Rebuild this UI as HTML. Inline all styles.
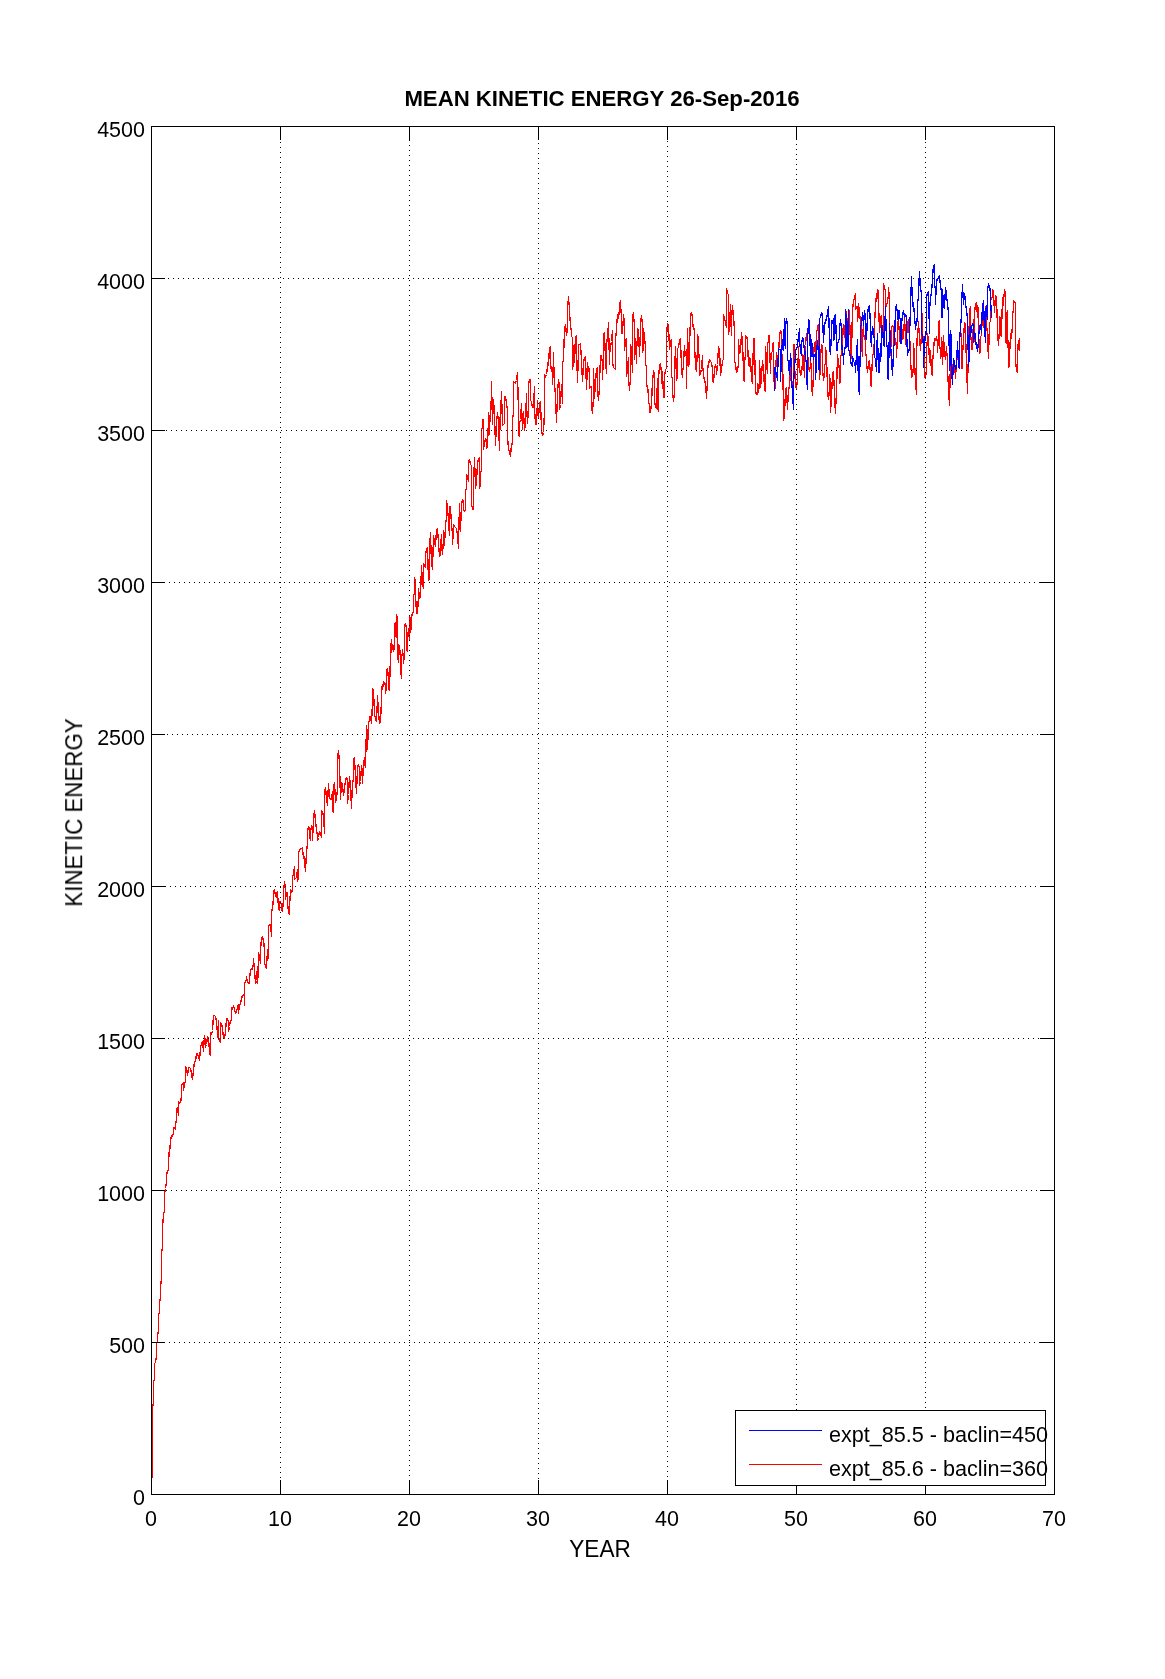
<!DOCTYPE html><html><head><meta charset="utf-8"><title>MEAN KINETIC ENERGY</title><style>html,body{margin:0;padding:0;background:#fff;}body{width:1165px;height:1679px;overflow:hidden;}svg{display:block;}text{font-family:"Liberation Sans",Arial,Helvetica,sans-serif;fill:#000;}</style></head><body><svg width="1165" height="1679" viewBox="0 0 1165 1679"><rect x="0" y="0" width="1165" height="1679" fill="#fff"/><path d="M151.5 1481.5 L152.5 1470.5 L152.5 1440.5 L152.5 1416.5 L152.5 1404.5 L153.5 1405.5 L153.5 1380.5 L154.5 1380.5 L154.5 1370.5 L154.5 1363.5 L155.5 1362.5 L156.5 1356.5 L156.5 1351.5 L156.5 1343.5 L157.5 1342.5 L157.5 1336.5 L158.5 1330.5 L158.5 1319.5 L158.5 1314.5 L159.5 1312.5 L159.5 1305.5 L159.5 1303.5 L160.5 1297.5 L160.5 1288.5 L160.5 1287.5 L161.5 1277.5 L161.5 1265.5 L161.5 1249.5 L162.5 1250.5 L162.5 1233.5 L162.5 1219.5 L163.5 1222.5 L163.5 1212.5 L164.5 1212.5 L164.5 1200.5 L164.5 1193.5 L165.5 1188.5 L166.5 1182.5 L166.5 1175.5 L167.5 1170.5 L168.5 1170.5 L168.5 1164.5 L169.5 1145.5 L170.5 1148.5 L170.5 1141.5 L171.5 1135.5 L172.5 1136.5 L173.5 1133.5 L173.5 1127.5 L174.5 1127.5 L175.5 1129.5 L175.5 1121.5 L176.5 1122.5 L176.5 1108.5 L177.5 1112.5 L177.5 1107.5 L178.5 1110.5 L178.5 1115.5 L178.5 1101.5 L179.5 1103.5 L180.5 1101.5 L180.5 1098.5 L181.5 1100.5 L181.5 1085.5 L182.5 1083.5 L182.5 1083.5 L183.5 1082.5 L183.5 1090.5 L184.5 1084.5 L185.5 1081.5 L185.5 1066.5 L186.5 1068.5 L187.5 1075.5 L188.5 1067.5 L188.5 1067.5 L189.5 1067.5 L190.5 1068.5 L191.5 1073.5 L192.5 1079.5 L193.5 1070.5 L193.5 1070.5 L194.5 1061.5 L195.5 1061.5 L196.5 1053.5 L197.5 1053.5 L198.5 1056.5 L199.5 1060.5 L200.5 1047.5 L201.5 1043.5 L202.5 1041.5 L203.5 1051.5 L203.5 1050.5 L204.5 1035.5 L205.5 1042.5 L205.5 1047.5 L206.5 1044.5 L207.5 1036.5 L208.5 1037.5 L209.5 1052.5 L210.5 1055.5 L210.5 1032.5 L211.5 1034.5 L212.5 1030.5 L213.5 1015.5 L214.5 1015.5 L215.5 1016.5 L216.5 1021.5 L217.5 1034.5 L217.5 1037.5 L218.5 1020.5 L218.5 1036.5 L219.5 1041.5 L220.5 1042.5 L220.5 1022.5 L221.5 1024.5 L222.5 1027.5 L223.5 1038.5 L224.5 1038.5 L225.5 1032.5 L226.5 1018.5 L227.5 1018.5 L228.5 1022.5 L228.5 1031.5 L229.5 1026.5 L230.5 1020.5 L231.5 1020.5 L231.5 1007.5 L232.5 1009.5 L233.5 1005.5 L234.5 1009.5 L235.5 1013.5 L236.5 1011.5 L237.5 1007.5 L238.5 1004.5 L238.5 1013.5 L239.5 1004.5 L240.5 1003.5 L240.5 1004.5 L241.5 998.5 L242.5 995.5 L244.5 994.5 L244.5 1005.5 L244.5 983.5 L245.5 981.5 L246.5 979.5 L246.5 976.5 L247.5 982.5 L249.5 983.5 L249.5 979.5 L250.5 970.5 L251.5 968.5 L252.5 969.5 L253.5 962.5 L253.5 958.5 L254.5 970.5 L255.5 983.5 L256.5 980.5 L257.5 966.5 L257.5 983.5 L258.5 968.5 L258.5 952.5 L259.5 956.5 L260.5 963.5 L260.5 950.5 L261.5 938.5 L262.5 936.5 L263.5 941.5 L263.5 938.5 L264.5 951.5 L264.5 962.5 L265.5 966.5 L266.5 968.5 L267.5 949.5 L267.5 955.5 L268.5 958.5 L268.5 926.5 L269.5 924.5 L270.5 924.5 L270.5 924.5 L271.5 936.5 L271.5 912.5 L272.5 907.5 L272.5 901.5 L273.5 904.5 L273.5 892.5 L274.5 889.5 L275.5 896.5 L276.5 897.5 L276.5 894.5 L277.5 891.5 L278.5 909.5 L279.5 910.5 L279.5 901.5 L280.5 901.5 L281.5 905.5 L281.5 909.5 L282.5 911.5 L283.5 898.5 L283.5 891.5 L284.5 881.5 L285.5 889.5 L285.5 899.5 L286.5 892.5 L287.5 892.5 L287.5 903.5 L288.5 911.5 L289.5 914.5 L289.5 908.5 L290.5 889.5 L291.5 892.5 L292.5 890.5 L292.5 875.5 L293.5 875.5 L294.5 866.5 L294.5 879.5 L295.5 878.5 L296.5 877.5 L297.5 869.5 L297.5 881.5 L298.5 878.5 L298.5 852.5 L299.5 850.5 L300.5 848.5 L301.5 848.5 L302.5 847.5 L302.5 849.5 L302.5 854.5 L303.5 852.5 L305.5 871.5 L305.5 870.5 L306.5 852.5 L307.5 843.5 L307.5 831.5 L308.5 826.5 L309.5 828.5 L309.5 834.5 L310.5 840.5 L310.5 832.5 L311.5 825.5 L312.5 829.5 L312.5 840.5 L313.5 819.5 L314.5 810.5 L315.5 821.5 L316.5 829.5 L317.5 836.5 L317.5 840.5 L318.5 837.5 L319.5 831.5 L320.5 833.5 L321.5 837.5 L321.5 810.5 L322.5 812.5 L323.5 815.5 L324.5 833.5 L324.5 793.5 L325.5 787.5 L326.5 798.5 L327.5 805.5 L327.5 804.5 L328.5 783.5 L329.5 797.5 L330.5 799.5 L331.5 799.5 L332.5 791.5 L332.5 810.5 L333.5 812.5 L333.5 788.5 L334.5 782.5 L335.5 801.5 L335.5 802.5 L336.5 798.5 L337.5 788.5 L337.5 753.5 L338.5 753.5 L338.5 750.5 L339.5 763.5 L340.5 799.5 L341.5 782.5 L342.5 785.5 L343.5 794.5 L343.5 795.5 L345.5 780.5 L346.5 777.5 L347.5 778.5 L347.5 803.5 L348.5 794.5 L349.5 776.5 L350.5 786.5 L351.5 808.5 L352.5 780.5 L353.5 781.5 L353.5 759.5 L354.5 757.5 L355.5 776.5 L356.5 793.5 L357.5 767.5 L358.5 764.5 L359.5 768.5 L359.5 785.5 L360.5 781.5 L361.5 765.5 L362.5 773.5 L362.5 783.5 L363.5 764.5 L364.5 757.5 L364.5 762.5 L365.5 767.5 L366.5 725.5 L366.5 726.5 L367.5 734.5 L367.5 749.5 L368.5 723.5 L369.5 719.5 L369.5 716.5 L370.5 716.5 L371.5 723.5 L372.5 702.5 L372.5 688.5 L373.5 689.5 L374.5 714.5 L374.5 714.5 L375.5 718.5 L376.5 721.5 L377.5 698.5 L377.5 695.5 L378.5 712.5 L379.5 723.5 L380.5 721.5 L381.5 700.5 L381.5 686.5 L382.5 689.5 L383.5 681.5 L384.5 684.5 L385.5 683.5 L385.5 693.5 L386.5 687.5 L386.5 669.5 L387.5 668.5 L388.5 679.5 L388.5 688.5 L389.5 690.5 L390.5 653.5 L390.5 649.5 L391.5 639.5 L391.5 652.5 L392.5 644.5 L393.5 648.5 L393.5 651.5 L394.5 642.5 L394.5 649.5 L394.5 625.5 L395.5 622.5 L395.5 624.5 L395.5 635.5 L396.5 637.5 L396.5 614.5 L397.5 618.5 L397.5 616.5 L397.5 643.5 L397.5 653.5 L398.5 662.5 L398.5 644.5 L399.5 645.5 L399.5 654.5 L400.5 650.5 L400.5 668.5 L401.5 677.5 L401.5 678.5 L401.5 658.5 L402.5 652.5 L402.5 649.5 L403.5 658.5 L403.5 663.5 L404.5 653.5 L404.5 632.5 L404.5 624.5 L405.5 623.5 L406.5 628.5 L406.5 643.5 L406.5 649.5 L407.5 651.5 L407.5 640.5 L408.5 628.5 L408.5 630.5 L409.5 639.5 L409.5 616.5 L410.5 619.5 L410.5 632.5 L411.5 625.5 L411.5 615.5 L411.5 618.5 L412.5 612.5 L413.5 612.5 L413.5 594.5 L414.5 594.5 L414.5 577.5 L415.5 581.5 L415.5 594.5 L416.5 613.5 L417.5 613.5 L418.5 595.5 L418.5 588.5 L419.5 598.5 L420.5 596.5 L421.5 565.5 L422.5 583.5 L423.5 588.5 L423.5 563.5 L424.5 564.5 L425.5 567.5 L425.5 553.5 L426.5 550.5 L427.5 547.5 L428.5 580.5 L429.5 578.5 L429.5 549.5 L430.5 532.5 L430.5 534.5 L431.5 564.5 L432.5 568.5 L432.5 569.5 L433.5 535.5 L434.5 542.5 L435.5 546.5 L436.5 529.5 L437.5 528.5 L438.5 542.5 L438.5 542.5 L439.5 556.5 L440.5 554.5 L440.5 549.5 L441.5 534.5 L441.5 544.5 L442.5 554.5 L443.5 538.5 L443.5 530.5 L444.5 534.5 L444.5 545.5 L445.5 526.5 L445.5 524.5 L446.5 517.5 L446.5 500.5 L447.5 508.5 L448.5 520.5 L448.5 521.5 L449.5 535.5 L449.5 506.5 L450.5 506.5 L451.5 525.5 L452.5 533.5 L452.5 544.5 L453.5 529.5 L453.5 524.5 L454.5 526.5 L456.5 528.5 L457.5 534.5 L458.5 548.5 L458.5 544.5 L459.5 503.5 L460.5 530.5 L460.5 531.5 L461.5 502.5 L461.5 505.5 L462.5 499.5 L462.5 499.5 L463.5 501.5 L463.5 509.5 L464.5 511.5 L465.5 509.5 L465.5 490.5 L466.5 488.5 L466.5 474.5 L467.5 476.5 L468.5 481.5 L468.5 462.5 L469.5 459.5 L470.5 464.5 L471.5 465.5 L471.5 503.5 L472.5 509.5 L473.5 509.5 L473.5 475.5 L474.5 463.5 L474.5 457.5 L475.5 487.5 L475.5 488.5 L476.5 481.5 L477.5 462.5 L478.5 459.5 L479.5 457.5 L479.5 488.5 L480.5 485.5 L480.5 472.5 L481.5 470.5 L481.5 429.5 L482.5 427.5 L482.5 419.5 L483.5 419.5 L483.5 449.5 L485.5 438.5 L486.5 439.5 L486.5 448.5 L487.5 446.5 L488.5 418.5 L488.5 412.5 L489.5 434.5 L489.5 429.5 L490.5 407.5 L491.5 397.5 L491.5 381.5 L492.5 424.5 L492.5 422.5 L493.5 399.5 L494.5 415.5 L495.5 445.5 L496.5 422.5 L497.5 412.5 L498.5 422.5 L499.5 450.5 L499.5 446.5 L500.5 402.5 L501.5 398.5 L501.5 391.5 L502.5 425.5 L503.5 424.5 L504.5 423.5 L504.5 396.5 L505.5 396.5 L507.5 410.5 L507.5 437.5 L508.5 448.5 L510.5 456.5 L511.5 443.5 L512.5 444.5 L512.5 415.5 L513.5 416.5 L513.5 381.5 L514.5 382.5 L515.5 383.5 L516.5 380.5 L516.5 380.5 L517.5 372.5 L518.5 413.5 L518.5 434.5 L519.5 436.5 L519.5 423.5 L520.5 419.5 L521.5 403.5 L522.5 429.5 L522.5 422.5 L523.5 411.5 L524.5 430.5 L525.5 423.5 L526.5 393.5 L526.5 403.5 L527.5 423.5 L528.5 407.5 L528.5 385.5 L529.5 379.5 L529.5 380.5 L530.5 379.5 L530.5 400.5 L531.5 401.5 L532.5 407.5 L533.5 407.5 L534.5 386.5 L534.5 408.5 L535.5 424.5 L536.5 424.5 L537.5 400.5 L537.5 408.5 L538.5 418.5 L539.5 404.5 L540.5 401.5 L541.5 429.5 L542.5 435.5 L543.5 432.5 L544.5 410.5 L544.5 374.5 L545.5 377.5 L546.5 374.5 L547.5 366.5 L547.5 362.5 L548.5 365.5 L549.5 347.5 L550.5 346.5 L550.5 362.5 L551.5 371.5 L551.5 370.5 L552.5 368.5 L552.5 384.5 L553.5 358.5 L553.5 352.5 L554.5 391.5 L555.5 388.5 L555.5 410.5 L556.5 415.5 L556.5 422.5 L557.5 394.5 L557.5 393.5 L558.5 379.5 L558.5 379.5 L559.5 385.5 L559.5 409.5 L560.5 404.5 L561.5 384.5 L562.5 403.5 L562.5 362.5 L563.5 360.5 L563.5 359.5 L564.5 328.5 L565.5 325.5 L565.5 324.5 L566.5 335.5 L566.5 332.5 L567.5 332.5 L567.5 309.5 L568.5 296.5 L568.5 298.5 L569.5 308.5 L569.5 311.5 L570.5 326.5 L571.5 331.5 L571.5 336.5 L572.5 337.5 L572.5 369.5 L573.5 362.5 L573.5 347.5 L574.5 344.5 L574.5 362.5 L575.5 338.5 L576.5 335.5 L576.5 347.5 L577.5 382.5 L577.5 380.5 L578.5 353.5 L578.5 344.5 L579.5 344.5 L580.5 343.5 L581.5 360.5 L582.5 381.5 L583.5 363.5 L584.5 357.5 L585.5 356.5 L586.5 389.5 L586.5 389.5 L587.5 362.5 L588.5 371.5 L589.5 368.5 L589.5 388.5 L590.5 386.5 L591.5 386.5 L591.5 410.5 L592.5 409.5 L592.5 413.5 L593.5 396.5 L593.5 368.5 L594.5 398.5 L594.5 396.5 L595.5 383.5 L596.5 368.5 L596.5 369.5 L597.5 367.5 L597.5 390.5 L598.5 400.5 L599.5 386.5 L599.5 383.5 L600.5 355.5 L601.5 355.5 L601.5 356.5 L602.5 362.5 L602.5 379.5 L603.5 352.5 L603.5 335.5 L604.5 332.5 L604.5 332.5 L605.5 360.5 L606.5 373.5 L606.5 345.5 L607.5 336.5 L607.5 338.5 L608.5 322.5 L609.5 364.5 L609.5 354.5 L610.5 346.5 L611.5 341.5 L612.5 330.5 L612.5 362.5 L613.5 367.5 L614.5 368.5 L615.5 369.5 L615.5 338.5 L616.5 330.5 L616.5 327.5 L617.5 314.5 L618.5 314.5 L618.5 318.5 L619.5 308.5 L619.5 304.5 L620.5 300.5 L620.5 304.5 L621.5 317.5 L621.5 333.5 L622.5 333.5 L622.5 333.5 L623.5 314.5 L624.5 323.5 L624.5 350.5 L625.5 341.5 L626.5 338.5 L626.5 376.5 L627.5 368.5 L628.5 357.5 L628.5 376.5 L629.5 390.5 L629.5 387.5 L630.5 381.5 L630.5 344.5 L631.5 349.5 L632.5 372.5 L632.5 318.5 L633.5 312.5 L633.5 315.5 L634.5 324.5 L634.5 359.5 L635.5 339.5 L635.5 338.5 L636.5 363.5 L636.5 351.5 L637.5 336.5 L637.5 328.5 L638.5 330.5 L638.5 329.5 L639.5 356.5 L640.5 327.5 L640.5 323.5 L641.5 315.5 L642.5 325.5 L642.5 352.5 L643.5 349.5 L643.5 328.5 L644.5 337.5 L645.5 347.5 L645.5 365.5 L646.5 365.5 L646.5 386.5 L647.5 385.5 L648.5 396.5 L648.5 401.5 L649.5 405.5 L649.5 412.5 L650.5 412.5 L651.5 403.5 L651.5 405.5 L652.5 379.5 L652.5 381.5 L653.5 372.5 L653.5 370.5 L654.5 375.5 L654.5 401.5 L655.5 406.5 L656.5 408.5 L657.5 378.5 L657.5 407.5 L658.5 411.5 L658.5 379.5 L659.5 365.5 L660.5 363.5 L661.5 372.5 L661.5 379.5 L662.5 386.5 L662.5 371.5 L663.5 397.5 L664.5 397.5 L664.5 376.5 L665.5 369.5 L666.5 368.5 L666.5 334.5 L667.5 323.5 L668.5 324.5 L669.5 349.5 L669.5 349.5 L670.5 341.5 L671.5 339.5 L671.5 375.5 L672.5 379.5 L672.5 391.5 L673.5 401.5 L673.5 399.5 L674.5 396.5 L674.5 375.5 L675.5 346.5 L676.5 379.5 L676.5 380.5 L677.5 377.5 L677.5 348.5 L678.5 347.5 L679.5 341.5 L679.5 341.5 L680.5 338.5 L680.5 341.5 L681.5 365.5 L681.5 370.5 L682.5 377.5 L682.5 368.5 L683.5 369.5 L683.5 363.5 L684.5 345.5 L684.5 350.5 L685.5 351.5 L686.5 358.5 L686.5 388.5 L687.5 329.5 L687.5 328.5 L688.5 366.5 L688.5 365.5 L689.5 363.5 L689.5 345.5 L690.5 318.5 L690.5 315.5 L691.5 312.5 L692.5 317.5 L692.5 321.5 L693.5 329.5 L694.5 328.5 L694.5 344.5 L695.5 365.5 L695.5 367.5 L696.5 371.5 L697.5 346.5 L697.5 334.5 L698.5 339.5 L698.5 357.5 L699.5 354.5 L699.5 375.5 L701.5 369.5 L702.5 355.5 L702.5 363.5 L703.5 375.5 L704.5 380.5 L705.5 383.5 L705.5 381.5 L706.5 398.5 L707.5 379.5 L707.5 370.5 L708.5 362.5 L708.5 364.5 L709.5 359.5 L710.5 361.5 L711.5 362.5 L712.5 369.5 L712.5 381.5 L713.5 382.5 L714.5 370.5 L715.5 364.5 L716.5 368.5 L716.5 374.5 L717.5 364.5 L718.5 347.5 L718.5 346.5 L719.5 351.5 L719.5 348.5 L720.5 375.5 L721.5 368.5 L722.5 361.5 L722.5 360.5 L723.5 359.5 L723.5 314.5 L724.5 319.5 L725.5 321.5 L725.5 323.5 L726.5 327.5 L726.5 288.5 L727.5 293.5 L728.5 294.5 L728.5 334.5 L729.5 327.5 L730.5 304.5 L730.5 310.5 L731.5 335.5 L731.5 320.5 L732.5 305.5 L732.5 308.5 L733.5 313.5 L733.5 315.5 L734.5 331.5 L734.5 360.5 L735.5 364.5 L736.5 372.5 L737.5 369.5 L738.5 364.5 L738.5 339.5 L739.5 353.5 L740.5 352.5 L740.5 352.5 L741.5 332.5 L742.5 341.5 L743.5 370.5 L743.5 378.5 L744.5 381.5 L744.5 357.5 L745.5 359.5 L745.5 335.5 L746.5 336.5 L747.5 339.5 L747.5 341.5 L748.5 365.5 L749.5 366.5 L749.5 357.5 L750.5 358.5 L751.5 378.5 L752.5 383.5 L752.5 380.5 L753.5 338.5 L754.5 338.5 L754.5 341.5 L755.5 391.5 L756.5 394.5 L756.5 394.5 L757.5 394.5 L757.5 383.5 L758.5 385.5 L758.5 392.5 L759.5 383.5 L759.5 360.5 L760.5 381.5 L760.5 387.5 L761.5 376.5 L762.5 360.5 L762.5 366.5 L763.5 364.5 L764.5 390.5 L764.5 390.5 L765.5 391.5 L765.5 346.5 L766.5 362.5 L767.5 373.5 L767.5 344.5 L768.5 340.5 L768.5 335.5 L769.5 335.5 L769.5 341.5 L770.5 373.5 L770.5 364.5 L771.5 352.5 L772.5 351.5 L772.5 343.5 L773.5 342.5 L773.5 374.5 L774.5 386.5 L774.5 390.5 L775.5 387.5 L775.5 375.5 L776.5 352.5 L777.5 358.5 L777.5 373.5 L778.5 355.5 L779.5 335.5 L780.5 330.5 L781.5 332.5 L781.5 351.5 L782.5 357.5 L782.5 356.5 L783.5 406.5 L783.5 420.5 L784.5 417.5 L784.5 414.5 L785.5 391.5 L785.5 390.5 L786.5 387.5 L786.5 391.5 L787.5 408.5 L787.5 409.5 L788.5 387.5 L789.5 388.5 L789.5 361.5 L790.5 361.5 L790.5 380.5 L791.5 380.5 L791.5 374.5 L792.5 391.5 L792.5 391.5 L793.5 376.5 L793.5 343.5 L793.5 345.5 L794.5 344.5 L794.5 362.5 L795.5 386.5 L796.5 388.5 L797.5 378.5 L797.5 380.5 L798.5 346.5 L798.5 353.5 L799.5 367.5 L800.5 375.5 L801.5 374.5 L802.5 362.5 L802.5 354.5 L803.5 356.5 L804.5 377.5 L804.5 354.5 L805.5 345.5 L806.5 333.5 L807.5 333.5 L807.5 349.5 L808.5 369.5 L809.5 368.5 L809.5 371.5 L810.5 364.5 L810.5 361.5 L811.5 365.5 L811.5 384.5 L812.5 395.5 L813.5 372.5 L813.5 357.5 L814.5 342.5 L814.5 343.5 L815.5 345.5 L815.5 355.5 L816.5 334.5 L816.5 330.5 L817.5 330.5 L817.5 327.5 L818.5 324.5 L818.5 351.5 L819.5 354.5 L819.5 379.5 L820.5 366.5 L820.5 357.5 L821.5 344.5 L822.5 347.5 L822.5 368.5 L823.5 380.5 L824.5 374.5 L824.5 364.5 L825.5 364.5 L825.5 347.5 L826.5 354.5 L827.5 388.5 L827.5 390.5 L828.5 399.5 L829.5 388.5 L829.5 374.5 L830.5 383.5 L830.5 412.5 L831.5 397.5 L832.5 374.5 L833.5 371.5 L833.5 372.5 L834.5 392.5 L834.5 400.5 L835.5 412.5 L835.5 413.5 L835.5 411.5 L836.5 391.5 L836.5 393.5 L837.5 354.5 L837.5 357.5 L838.5 360.5 L839.5 371.5 L839.5 383.5 L840.5 381.5 L840.5 356.5 L841.5 354.5 L842.5 342.5 L842.5 335.5 L843.5 324.5 L843.5 328.5 L844.5 337.5 L845.5 318.5 L846.5 312.5 L846.5 311.5 L847.5 329.5 L848.5 328.5 L848.5 318.5 L849.5 310.5 L849.5 312.5 L850.5 346.5 L850.5 356.5 L851.5 357.5 L851.5 358.5 L852.5 304.5 L853.5 306.5 L853.5 299.5 L854.5 299.5 L855.5 293.5 L855.5 309.5 L856.5 306.5 L857.5 306.5 L857.5 321.5 L858.5 312.5 L858.5 303.5 L859.5 313.5 L860.5 321.5 L860.5 322.5 L861.5 330.5 L861.5 343.5 L862.5 356.5 L862.5 335.5 L863.5 325.5 L863.5 332.5 L864.5 339.5 L865.5 336.5 L865.5 351.5 L866.5 358.5 L866.5 368.5 L867.5 369.5 L867.5 372.5 L868.5 363.5 L869.5 360.5 L869.5 364.5 L870.5 372.5 L870.5 384.5 L871.5 386.5 L871.5 378.5 L872.5 356.5 L873.5 352.5 L873.5 348.5 L874.5 341.5 L874.5 325.5 L875.5 305.5 L876.5 294.5 L876.5 293.5 L877.5 298.5 L877.5 289.5 L878.5 292.5 L878.5 302.5 L879.5 332.5 L880.5 319.5 L880.5 318.5 L881.5 315.5 L881.5 334.5 L882.5 334.5 L883.5 327.5 L883.5 283.5 L884.5 287.5 L885.5 291.5 L885.5 308.5 L886.5 305.5 L887.5 301.5 L887.5 297.5 L888.5 298.5 L888.5 287.5 L889.5 300.5 L889.5 321.5 L890.5 346.5 L890.5 353.5 L890.5 355.5 L891.5 331.5 L891.5 326.5 L892.5 325.5 L893.5 327.5 L893.5 346.5 L894.5 344.5 L895.5 338.5 L896.5 348.5 L896.5 357.5 L897.5 334.5 L897.5 323.5 L898.5 320.5 L899.5 335.5 L899.5 337.5 L900.5 343.5 L900.5 333.5 L901.5 327.5 L902.5 331.5 L902.5 339.5 L903.5 338.5 L904.5 317.5 L905.5 334.5 L905.5 344.5 L906.5 339.5 L907.5 321.5 L907.5 323.5 L908.5 319.5 L909.5 339.5 L910.5 344.5 L910.5 359.5 L911.5 375.5 L911.5 377.5 L912.5 376.5 L913.5 365.5 L913.5 343.5 L914.5 355.5 L914.5 359.5 L915.5 382.5 L916.5 394.5 L916.5 355.5 L917.5 329.5 L918.5 327.5 L918.5 321.5 L919.5 339.5 L920.5 348.5 L920.5 350.5 L921.5 333.5 L921.5 330.5 L922.5 313.5 L922.5 335.5 L923.5 337.5 L923.5 348.5 L924.5 350.5 L924.5 375.5 L925.5 378.5 L926.5 368.5 L926.5 350.5 L927.5 338.5 L927.5 333.5 L928.5 339.5 L929.5 362.5 L929.5 360.5 L930.5 350.5 L931.5 374.5 L932.5 375.5 L932.5 364.5 L933.5 350.5 L934.5 338.5 L934.5 338.5 L935.5 340.5 L936.5 336.5 L937.5 343.5 L937.5 352.5 L938.5 335.5 L938.5 321.5 L939.5 320.5 L939.5 344.5 L940.5 351.5 L940.5 358.5 L941.5 354.5 L941.5 337.5 L942.5 348.5 L942.5 364.5 L943.5 344.5 L943.5 335.5 L944.5 352.5 L945.5 359.5 L946.5 346.5 L946.5 349.5 L947.5 359.5 L947.5 368.5 L948.5 388.5 L949.5 405.5 L949.5 405.5 L950.5 358.5 L951.5 363.5 L952.5 364.5 L952.5 367.5 L953.5 373.5 L954.5 371.5 L954.5 364.5 L955.5 373.5 L955.5 378.5 L956.5 360.5 L957.5 358.5 L957.5 353.5 L958.5 355.5 L959.5 355.5 L959.5 338.5 L960.5 333.5 L960.5 333.5 L961.5 333.5 L961.5 368.5 L962.5 368.5 L962.5 355.5 L963.5 339.5 L964.5 322.5 L965.5 325.5 L965.5 333.5 L966.5 363.5 L967.5 393.5 L967.5 384.5 L968.5 353.5 L969.5 312.5 L970.5 306.5 L970.5 332.5 L971.5 344.5 L971.5 349.5 L972.5 349.5 L973.5 319.5 L973.5 339.5 L974.5 341.5 L974.5 312.5 L975.5 304.5 L975.5 304.5 L976.5 302.5 L977.5 317.5 L977.5 305.5 L978.5 309.5 L978.5 330.5 L979.5 353.5 L979.5 353.5 L980.5 352.5 L980.5 336.5 L981.5 335.5 L981.5 332.5 L982.5 314.5 L983.5 327.5 L983.5 326.5 L984.5 328.5 L984.5 336.5 L985.5 311.5 L985.5 306.5 L986.5 330.5 L987.5 328.5 L987.5 340.5 L988.5 358.5 L989.5 322.5 L990.5 321.5 L990.5 315.5 L990.5 297.5 L991.5 299.5 L992.5 295.5 L992.5 289.5 L993.5 292.5 L994.5 312.5 L994.5 311.5 L995.5 295.5 L996.5 298.5 L996.5 298.5 L997.5 328.5 L997.5 332.5 L998.5 345.5 L999.5 328.5 L999.5 316.5 L1000.5 318.5 L1000.5 333.5 L1001.5 336.5 L1001.5 330.5 L1002.5 298.5 L1002.5 297.5 L1003.5 305.5 L1003.5 300.5 L1004.5 291.5 L1004.5 289.5 L1005.5 294.5 L1005.5 340.5 L1006.5 343.5 L1006.5 315.5 L1007.5 310.5 L1007.5 330.5 L1008.5 356.5 L1008.5 367.5 L1009.5 365.5 L1009.5 358.5 L1010.5 333.5 L1011.5 337.5 L1011.5 338.5 L1012.5 324.5 L1012.5 321.5 L1012.5 315.5 L1013.5 308.5 L1013.5 300.5 L1014.5 302.5 L1015.5 302.5 L1015.5 319.5 L1015.5 360.5 L1016.5 369.5 L1016.5 371.5 L1017.5 372.5 L1017.5 351.5 L1018.5 340.5 L1018.5 349.5 L1019.5 350.5 L1019.5 337.5" stroke="#ff0000" stroke-width="1.3" fill="none" stroke-linejoin="miter" stroke-miterlimit="2" shape-rendering="crispEdges"/><path d="M774.5 390.5 L774.5 367.5 L775.5 367.5 L775.5 374.5 L776.5 372.5 L777.5 380.5 L777.5 378.5 L778.5 348.5 L779.5 349.5 L780.5 349.5 L780.5 381.5 L781.5 356.5 L781.5 355.5 L782.5 339.5 L782.5 348.5 L783.5 350.5 L784.5 318.5 L784.5 339.5 L785.5 348.5 L785.5 326.5 L786.5 318.5 L786.5 320.5 L787.5 321.5 L787.5 358.5 L788.5 362.5 L788.5 364.5 L789.5 374.5 L790.5 353.5 L791.5 365.5 L791.5 381.5 L792.5 391.5 L792.5 392.5 L793.5 409.5 L793.5 384.5 L794.5 367.5 L795.5 355.5 L795.5 350.5 L796.5 348.5 L797.5 346.5 L797.5 344.5 L798.5 336.5 L798.5 339.5 L799.5 328.5 L799.5 346.5 L800.5 344.5 L800.5 350.5 L801.5 355.5 L801.5 344.5 L802.5 337.5 L803.5 338.5 L803.5 347.5 L804.5 345.5 L805.5 360.5 L805.5 357.5 L806.5 363.5 L806.5 375.5 L807.5 389.5 L807.5 341.5 L808.5 321.5 L808.5 319.5 L809.5 320.5 L810.5 358.5 L810.5 360.5 L811.5 350.5 L811.5 339.5 L812.5 350.5 L813.5 359.5 L813.5 355.5 L814.5 356.5 L815.5 353.5 L815.5 379.5 L816.5 361.5 L816.5 354.5 L817.5 340.5 L817.5 340.5 L818.5 354.5 L818.5 367.5 L819.5 370.5 L819.5 318.5 L820.5 317.5 L821.5 312.5 L822.5 315.5 L823.5 342.5 L823.5 342.5 L824.5 322.5 L825.5 323.5 L826.5 317.5 L826.5 317.5 L827.5 314.5 L827.5 315.5 L828.5 306.5 L829.5 338.5 L829.5 347.5 L830.5 354.5 L830.5 354.5 L831.5 331.5 L831.5 320.5 L832.5 323.5 L833.5 318.5 L833.5 340.5 L834.5 338.5 L834.5 316.5 L835.5 314.5 L836.5 343.5 L836.5 350.5 L837.5 350.5 L837.5 344.5 L838.5 340.5 L839.5 338.5 L839.5 329.5 L840.5 319.5 L841.5 328.5 L841.5 339.5 L842.5 355.5 L843.5 354.5 L843.5 364.5 L843.5 357.5 L844.5 350.5 L845.5 345.5 L845.5 309.5 L846.5 322.5 L846.5 347.5 L847.5 345.5 L848.5 309.5 L848.5 349.5 L849.5 351.5 L849.5 353.5 L850.5 356.5 L850.5 361.5 L851.5 364.5 L852.5 366.5 L852.5 356.5 L853.5 361.5 L854.5 362.5 L855.5 367.5 L855.5 372.5 L856.5 353.5 L857.5 341.5 L857.5 339.5 L858.5 386.5 L858.5 387.5 L859.5 394.5 L859.5 380.5 L860.5 343.5 L860.5 325.5 L861.5 324.5 L861.5 325.5 L862.5 312.5 L862.5 314.5 L863.5 324.5 L863.5 325.5 L864.5 310.5 L865.5 317.5 L865.5 337.5 L866.5 339.5 L867.5 315.5 L867.5 314.5 L868.5 306.5 L869.5 305.5 L869.5 305.5 L870.5 325.5 L870.5 336.5 L871.5 346.5 L871.5 340.5 L872.5 326.5 L873.5 331.5 L873.5 333.5 L874.5 339.5 L874.5 357.5 L875.5 358.5 L876.5 371.5 L876.5 352.5 L877.5 333.5 L878.5 372.5 L879.5 372.5 L880.5 343.5 L880.5 352.5 L881.5 356.5 L881.5 325.5 L882.5 325.5 L883.5 344.5 L884.5 346.5 L884.5 336.5 L885.5 306.5 L886.5 342.5 L886.5 343.5 L887.5 348.5 L887.5 377.5 L888.5 379.5 L888.5 378.5 L889.5 324.5 L889.5 323.5 L890.5 345.5 L891.5 356.5 L891.5 359.5 L892.5 375.5 L893.5 351.5 L893.5 346.5 L894.5 344.5 L895.5 308.5 L896.5 304.5 L896.5 306.5 L897.5 313.5 L897.5 319.5 L898.5 320.5 L898.5 310.5 L899.5 310.5 L899.5 316.5 L900.5 320.5 L900.5 343.5 L901.5 343.5 L901.5 324.5 L902.5 315.5 L903.5 310.5 L904.5 316.5 L904.5 317.5 L905.5 314.5 L906.5 317.5 L906.5 330.5 L907.5 355.5 L908.5 349.5 L909.5 350.5 L909.5 337.5 L910.5 307.5 L911.5 276.5 L911.5 276.5 L912.5 306.5 L912.5 304.5 L913.5 302.5 L914.5 317.5 L915.5 327.5 L915.5 329.5 L916.5 318.5 L917.5 321.5 L917.5 302.5 L918.5 297.5 L918.5 294.5 L919.5 271.5 L919.5 271.5 L920.5 288.5 L921.5 293.5 L921.5 326.5 L921.5 333.5 L922.5 335.5 L923.5 346.5 L923.5 367.5 L924.5 336.5 L924.5 337.5 L925.5 340.5 L926.5 326.5 L926.5 296.5 L927.5 293.5 L928.5 291.5 L929.5 333.5 L929.5 309.5 L930.5 298.5 L931.5 292.5 L932.5 279.5 L932.5 277.5 L933.5 265.5 L934.5 264.5 L934.5 283.5 L935.5 289.5 L935.5 304.5 L936.5 279.5 L936.5 281.5 L937.5 279.5 L938.5 277.5 L938.5 278.5 L939.5 275.5 L940.5 287.5 L941.5 290.5 L941.5 317.5 L942.5 317.5 L942.5 289.5 L943.5 305.5 L944.5 308.5 L944.5 307.5 L945.5 287.5 L946.5 294.5 L946.5 296.5 L947.5 303.5 L948.5 312.5 L948.5 320.5 L949.5 358.5 L949.5 370.5 L950.5 357.5 L950.5 330.5 L951.5 340.5 L951.5 367.5 L952.5 384.5 L953.5 358.5 L953.5 358.5 L954.5 362.5 L955.5 369.5 L956.5 368.5 L957.5 341.5 L957.5 342.5 L958.5 364.5 L958.5 367.5 L959.5 368.5 L959.5 342.5 L960.5 326.5 L961.5 315.5 L961.5 304.5 L962.5 285.5 L962.5 284.5 L963.5 304.5 L963.5 302.5 L964.5 294.5 L964.5 293.5 L965.5 300.5 L965.5 303.5 L966.5 309.5 L967.5 319.5 L967.5 317.5 L968.5 366.5 L968.5 363.5 L969.5 359.5 L969.5 329.5 L970.5 326.5 L970.5 336.5 L971.5 325.5 L971.5 327.5 L972.5 323.5 L973.5 326.5 L973.5 342.5 L974.5 332.5 L975.5 333.5 L975.5 344.5 L976.5 342.5 L977.5 351.5 L978.5 340.5 L978.5 336.5 L979.5 328.5 L979.5 326.5 L980.5 324.5 L981.5 332.5 L981.5 330.5 L982.5 303.5 L983.5 305.5 L983.5 300.5 L984.5 330.5 L984.5 327.5 L985.5 342.5 L985.5 312.5 L986.5 305.5 L986.5 311.5 L987.5 319.5 L987.5 290.5 L988.5 283.5 L988.5 285.5 L989.5 285.5 L990.5 293.5 L990.5 297.5 L991.5 318.5" stroke="#0000ff" stroke-width="1.3" fill="none" stroke-linejoin="miter" stroke-miterlimit="2" shape-rendering="crispEdges"/><path d="M280.5 127V1494M409.5 130V1494M538.5 128V1494M667.5 131V1494M796.5 129V1494M925.5 127V1494M154 1342.5H1054M156 1190.5H1054M153 1038.5H1054M155 886.5H1054M152 734.5H1054M154 582.5H1054M156 430.5H1054M153 278.5H1054" stroke="#000" stroke-width="1" stroke-dasharray="1 4" fill="none" shape-rendering="crispEdges"/><path d="M151.5 126v14M151.5 1495v-15M280.5 126v14M280.5 1495v-15M409.5 126v14M409.5 1495v-15M538.5 126v14M538.5 1495v-15M667.5 126v14M667.5 1495v-15M796.5 126v14M796.5 1495v-15M925.5 126v14M925.5 1495v-15M1054.5 126v14M1054.5 1495v-15M151 1494.5h14M1055 1494.5h-15M151 1342.5h14M1055 1342.5h-15M151 1190.5h14M1055 1190.5h-15M151 1038.5h14M1055 1038.5h-15M151 886.5h14M1055 886.5h-15M151 734.5h14M1055 734.5h-15M151 582.5h14M1055 582.5h-15M151 430.5h14M1055 430.5h-15M151 278.5h14M1055 278.5h-15M151 126.5h14M1055 126.5h-15" stroke="#000" stroke-width="1" fill="none" shape-rendering="crispEdges"/><rect x="151.5" y="126.5" width="903" height="1368" stroke="#000" stroke-width="1" fill="none" shape-rendering="crispEdges"/><g style="filter:grayscale(1)"><text x="145" y="1505" font-size="21.5" text-anchor="end">0</text><text x="145" y="1353" font-size="21.5" text-anchor="end">500</text><text x="145" y="1201" font-size="21.5" text-anchor="end">1000</text><text x="145" y="1049" font-size="21.5" text-anchor="end">1500</text><text x="145" y="897" font-size="21.5" text-anchor="end">2000</text><text x="145" y="745" font-size="21.5" text-anchor="end">2500</text><text x="145" y="593" font-size="21.5" text-anchor="end">3000</text><text x="145" y="441" font-size="21.5" text-anchor="end">3500</text><text x="145" y="289" font-size="21.5" text-anchor="end">4000</text><text x="145" y="137" font-size="21.5" text-anchor="end">4500</text><text x="151" y="1526" font-size="21.5" text-anchor="middle">0</text><text x="280" y="1526" font-size="21.5" text-anchor="middle">10</text><text x="409" y="1526" font-size="21.5" text-anchor="middle">20</text><text x="538" y="1526" font-size="21.5" text-anchor="middle">30</text><text x="667" y="1526" font-size="21.5" text-anchor="middle">40</text><text x="796" y="1526" font-size="21.5" text-anchor="middle">50</text><text x="925" y="1526" font-size="21.5" text-anchor="middle">60</text><text x="1054" y="1526" font-size="21.5" text-anchor="middle">70</text><text transform="translate(602 106) scale(1 1.03)" x="0" y="0" font-size="22.2" font-weight="bold" text-anchor="middle">MEAN KINETIC ENERGY 26-Sep-2016</text><text transform="translate(600 1557) scale(1 1.04)" x="0" y="0" font-size="22.6" text-anchor="middle">YEAR</text><text transform="translate(82 812.5) rotate(-90) scale(1 1.04)" x="0" y="0" font-size="22.3" text-anchor="middle">KINETIC ENERGY</text></g><rect x="735.5" y="1410.5" width="310" height="75" fill="#fff" stroke="#000" stroke-width="1" shape-rendering="crispEdges"/><path d="M749 1430.5H822" stroke="#0000ff" stroke-width="1" shape-rendering="crispEdges"/><path d="M749 1464.5H822" stroke="#ff0000" stroke-width="1" shape-rendering="crispEdges"/><g style="filter:grayscale(1)"><text x="829" y="1442" font-size="21.6">expt_85.5 - baclin=450</text><text x="829" y="1476" font-size="21.6">expt_85.6 - baclin=360</text></g></svg></body></html>
